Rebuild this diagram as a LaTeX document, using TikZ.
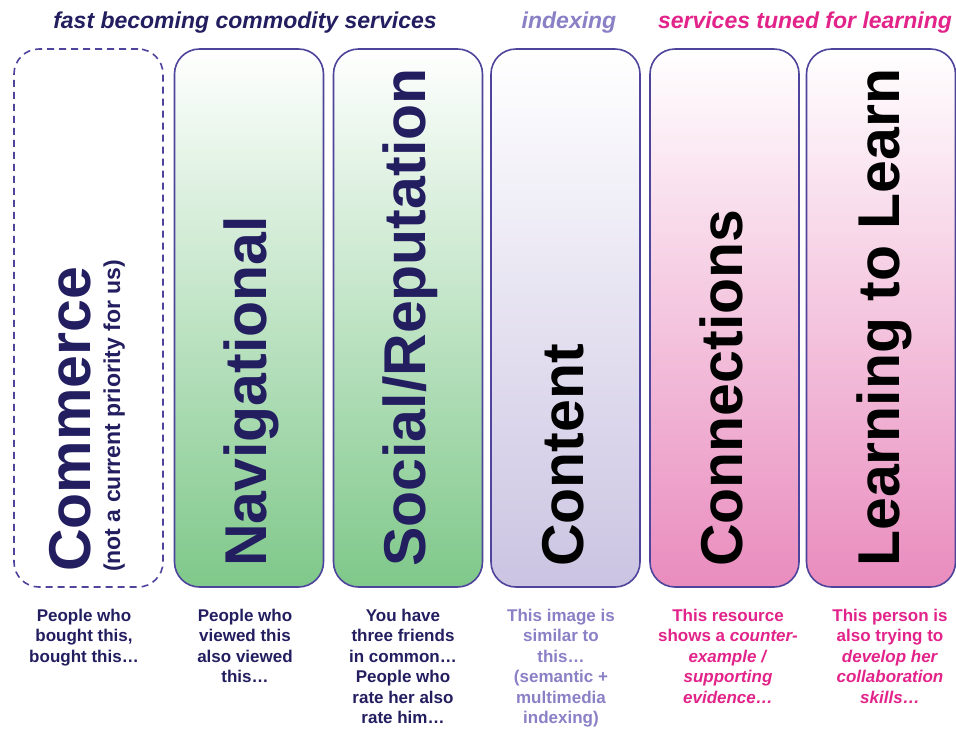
\documentclass[tikz,border=0pt]{standalone}
\usepackage{fontspec}
\setmainfont{Liberation Sans}
\definecolor{navy}{HTML}{221E60}
\definecolor{edge}{HTML}{4E449C}
\definecolor{lavtext}{HTML}{8A80C6}
\definecolor{pinktext}{HTML}{E2248A}
\definecolor{greenfill}{HTML}{7FC88A}
\definecolor{lavfill}{HTML}{CBC4E2}
\definecolor{pinkfill}{HTML}{E98CBE}
\tikzset{
  box/.style={rectangle, rounded corners=25pt, minimum width=149pt, minimum height=538pt, line width=1.6pt, draw=edge, inner sep=0pt},
  biglabel/.style={rotate=90, anchor=base west, inner sep=0pt, font=\bfseries\fontsize{59}{59}\selectfont},
  sublabel/.style={rotate=90, anchor=base west, inner sep=0pt, font=\bfseries\fontsize{23}{23}\selectfont, text=navy},
  note/.style={align=center, anchor=north, inner sep=0pt, font=\bfseries\fontsize{17}{20.4}\selectfont},
  heading/.style={anchor=base, inner sep=0pt, font=\bfseries\itshape\fontsize{23}{23}\selectfont},
}
\begin{document}
\begin{tikzpicture}[x=1pt, y=-1pt]
\useasboundingbox[fill=white] (0,0) rectangle (956,729);

% headings
\node[heading, text=navy] (h1) at (245,28) {fast becoming commodity services};
\node[heading, text=lavtext] (h2) at (569,28) {indexing};
\node[heading, text=pinktext] (h3) at (805,28) {services tuned for learning};

% boxes
\node[box, dash pattern=on 7pt off 5pt, fill=white] (commerce) at (88.5,318) {};
\node[box, top color=white, bottom color=greenfill] (nav) at (249,318) {};
\node[box, top color=white, bottom color=greenfill] (social) at (408,318) {};
\node[box, top color=white, bottom color=lavfill] (content) at (565.5,318) {};
\node[box, top color=white, bottom color=pinkfill] (conn) at (724.5,318) {};
\node[box, top color=white, bottom color=pinkfill] (learn) at (881,318) {};

% big vertical labels
\node[biglabel, text=navy] (lcommerce) at (90,572) {Commerce};
\node[sublabel] (lcommerce2) at (120,572) {(not a current priority for us)};
\node[biglabel, text=navy] (lnav) at (266,567) {Navigational};
\node[biglabel, text=navy] (lsocial) at (425,567) {Social/Reputation};
\node[biglabel, text=black] (lcontent) at (583,567) {Content};
\node[biglabel, text=black] (lconn) at (742,567) {Connections};
\node[biglabel, text=black] (llearn) at (899,567) {Learning to Learn};

% notes below
\node[note, text=navy] (n1) at (84,609) {People who\\bought this,\\bought this…};
\node[note, text=navy] (n2) at (245,609) {People who\\viewed this\\also viewed\\this…};
\node[note, text=navy] (n3) at (403,609) {You have\\three friends\\in common…\\People who\\rate her also\\rate him…};
\node[note, text=lavtext] (n4) at (561,609) {This image is\\similar to\\this…\\(semantic +\\multimedia\\indexing)};
\node[note, text=pinktext] (n5) at (728,609) {This resource\\shows a \textit{counter-}\\\textit{example /}\\\textit{supporting}\\\textit{evidence…}};
\node[note, text=pinktext] (n6) at (890,609) {This person is\\also trying to\\\textit{develop her}\\\textit{collaboration}\\\textit{skills…}};
\end{tikzpicture}
\end{document}
